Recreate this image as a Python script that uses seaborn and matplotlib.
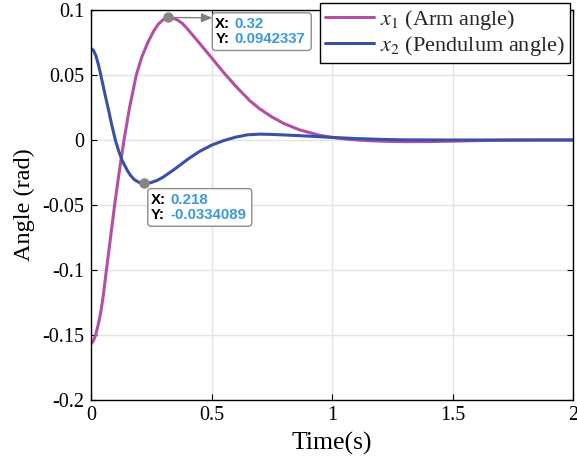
import matplotlib
matplotlib.use('Agg')
import matplotlib.pyplot as plt
from matplotlib.patches import FancyBboxPatch
from matplotlib.transforms import Bbox, IdentityTransform
import pandas as pd
import seaborn as sns

# ---- data ----
arm_t = [0, 0.010, 0.020, 0.030, 0.040, 0.050, 0.064, 0.080, 0.098, 0.116, 0.137, 0.160,
         0.188, 0.210, 0.237, 0.260, 0.280, 0.300, 0.320, 0.340, 0.360, 0.380, 0.400, 0.450,
         0.506, 0.550, 0.600, 0.660, 0.700, 0.750, 0.800, 0.867, 0.950, 1.000, 1.070, 1.140,
         1.220, 1.310, 1.400, 1.500, 1.600, 1.700, 1.850, 2.000]
arm_y = [-0.157, -0.1545, -0.1495, -0.142, -0.133, -0.121, -0.100, -0.0765, -0.050, -0.026, 0.0, 0.025,
         0.050, 0.0635, 0.0755, 0.0838, 0.0893, 0.0926, 0.0942, 0.0938, 0.0922, 0.0895, 0.0855, 0.0745,
         0.0620, 0.0520, 0.0415, 0.0300, 0.0240, 0.0178, 0.0127, 0.0077, 0.0036, 0.0020, 0.0005, -0.0004,
         -0.0010, -0.0013, -0.0012, -0.0009, -0.0005, -0.0002, 0.0, 0.0]

pend_t = [0, 0.010, 0.020, 0.030, 0.040, 0.050, 0.060, 0.073, 0.085, 0.101, 0.115, 0.130,
          0.151, 0.165, 0.180, 0.200, 0.218, 0.235, 0.250, 0.275, 0.300, 0.350, 0.400, 0.450,
          0.500, 0.550, 0.600, 0.650, 0.700, 0.750, 0.800, 0.900, 1.000, 1.100, 1.200, 1.300,
          1.500, 2.000]
pend_y = [0.0705, 0.0690, 0.0650, 0.0585, 0.0505, 0.0420, 0.0335, 0.0230, 0.0125, 0.0, -0.0085, -0.0160,
          -0.0235, -0.0275, -0.0305, -0.0327, -0.0334, -0.0332, -0.0327, -0.0310, -0.0285, -0.0220, -0.0150, -0.0088,
          -0.0040, -0.0005, 0.0022, 0.0040, 0.0045, 0.0043, 0.0039, 0.0030, 0.0020, 0.0011, 0.0005, 0.0001,
          0.0, 0.0]

series_labels = [r'$x_1$ (Arm angle)', r'$x_2$ (Pendulum angle)']
series_colors = ['#B44FA6', '#3A51A3']

x_ticks = [0, 0.5, 1, 1.5, 2]
x_ticklabels = ['0', '0.5', '1', '1.5', '2']
y_ticks = [0.1, 0.05, 0, -0.05, -0.1, -0.15, -0.2]
y_ticklabels = ['0.1', '0.05', '0', '-0.05', '-0.1', '-0.15', '-0.2']

tip_x = [0.32, 0.218]
tip_y = [0.0942337, -0.0334089]
tip_xtext = ['0.32', '0.218']
tip_ytext = ['0.0942337', '-0.0334089']

# ---- style ----
sns.set_theme(style='whitegrid')
plt.rcParams['font.family'] = ['Liberation Serif', 'DejaVu Serif']
plt.rcParams['mathtext.fontset'] = 'stix'
plt.rcParams['axes.unicode_minus'] = False

df = pd.concat([
    pd.DataFrame({'Time': arm_t, 'Angle': arm_y, 'series': series_labels[0]}),
    pd.DataFrame({'Time': pend_t, 'Angle': pend_y, 'series': series_labels[1]}),
], ignore_index=True)

fig = plt.figure(figsize=(5.77, 4.66), dpi=100)
fig.patch.set_facecolor('white')
ax = fig.add_axes([91 / 577, 66 / 466, 482 / 577, 390 / 466])
ax.set_facecolor('white')

sns.lineplot(data=df, x='Time', y='Angle', hue='series', hue_order=series_labels,
             palette=series_colors, linewidth=2.2, estimator=None, sort=False, ax=ax)

ax.set_xlim(0, 2)
ax.set_ylim(-0.2, 0.1)
ax.set_xticks(x_ticks)
ax.set_xticklabels(x_ticklabels)
ax.set_yticks(y_ticks)
ax.set_yticklabels(y_ticklabels)
ax.grid(True, color='#E3E3E3', linewidth=1.0)
for s in ax.spines.values():
    s.set_color('black')
    s.set_linewidth(1.0)
ax.tick_params(which='both', direction='in', length=4, width=0.8, color='black',
               top=True, right=True, bottom=True, left=True, labelsize=14.5,
               labelcolor='black')
ax.tick_params(axis='x', pad=4)
ax.tick_params(axis='y', pad=5)
ax.set_xlabel('Time(s)', fontsize=18.5, color='black', labelpad=5)
ax.set_ylabel('Angle (rad)', fontsize=17.5, color='black', labelpad=5)

handles, labels = ax.get_legend_handles_labels()
leg = ax.legend(handles, labels, loc='upper right', bbox_to_anchor=(0.994, 1.018),
                frameon=True, fancybox=False, edgecolor='black', framealpha=1,
                fontsize=16, handlelength=2.2, borderpad=0.22, labelspacing=0.1,
                handletextpad=0.3, borderaxespad=0)
leg.get_frame().set_linewidth(1.0)
leg.set_zorder(10)

# ---- data tips ----
tip_fs = 10.8
tip_blue = '#3C9AD8'
ax.plot(tip_x, tip_y, 'o', color='#858585', markersize=6.5, zorder=8, clip_on=False)

offsets = [(34.0, 0.5), (5.2, -6.6)]
arrows = [True, False]
kw = dict(fontsize=tip_fs, fontweight='bold', family='Liberation Sans',
          linespacing=1.15, va='top', ha='left')
tips = []
for x, y, xs, ys, off in zip(tip_x, tip_y, tip_xtext, tip_ytext, offsets):
    lab = ax.annotate('X:\nY:', xy=(x, y), xytext=off, textcoords='offset points',
                      color='black', zorder=10, annotation_clip=False, **kw)
    val = ax.annotate(f'{xs}\n{ys}', xy=(1, 1), xycoords=lab, xytext=(2.9, 0),
                      textcoords='offset points', color=tip_blue, zorder=10,
                      annotation_clip=False, **kw)
    tips.append((lab, val))

fig.canvas.draw()
r = fig.canvas.get_renderer()
padx_l, padx_r, pady = 3, 6, 4
for (lab, val), arr, x, y in zip(tips, arrows, tip_x, tip_y):
    bb = Bbox.union([lab.get_window_extent(r), val.get_window_extent(r)])
    box = FancyBboxPatch((bb.x0 - padx_l, bb.y0 - pady), bb.width + padx_l + padx_r,
                         bb.height + 2 * pady,
                         boxstyle='round,pad=0,rounding_size=3.5', fc='white', ec='#8C8C8C',
                         lw=1.0, zorder=9)
    ax.add_artist(box)
    box.set_transform(IdentityTransform())
    box.set_clip_on(False)
    if arr:
        ax.annotate('', xy=(bb.x0 - padx_l, bb.y1 - 1), xycoords='figure pixels',
                    xytext=(x, y), textcoords='data', annotation_clip=False,
                    arrowprops=dict(arrowstyle='-|>,head_length=0.6,head_width=0.25',
                                    color='#808080', lw=1.0, shrinkA=4, shrinkB=0,
                                    mutation_scale=tip_fs), zorder=9)

fig.savefig('out.png', dpi=100, facecolor='white')
